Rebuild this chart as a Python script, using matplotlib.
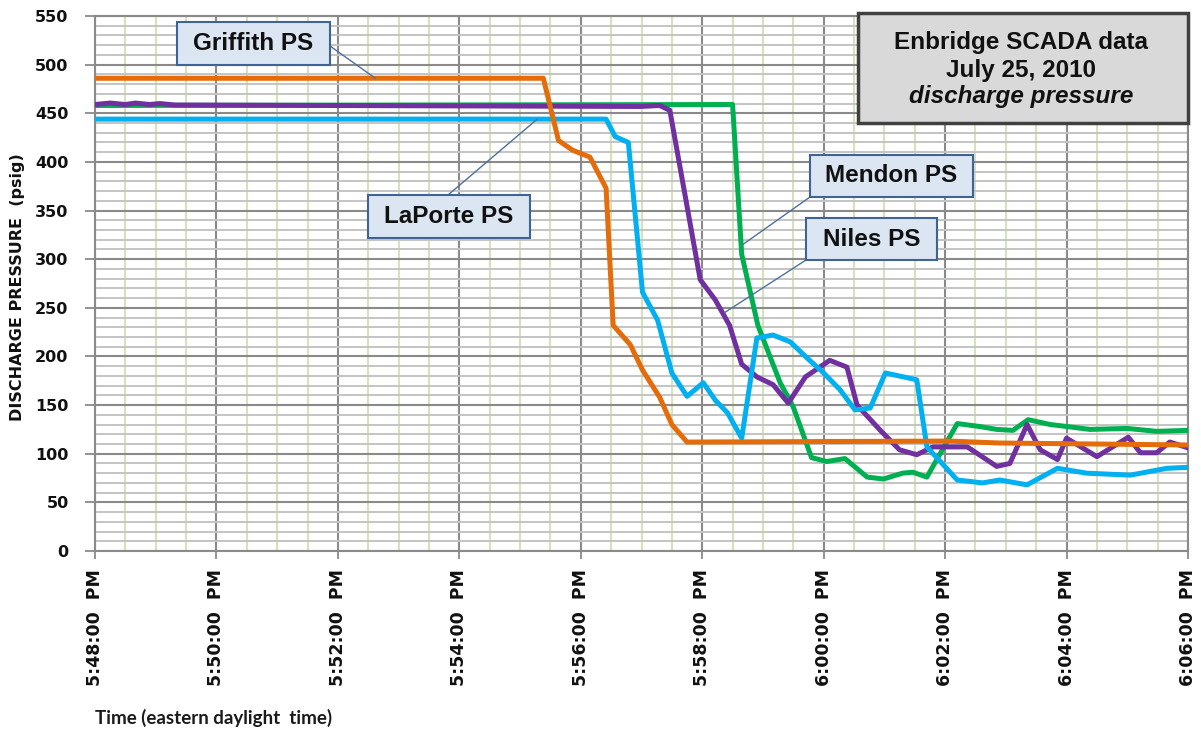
import matplotlib
matplotlib.use("Agg")
import matplotlib.pyplot as plt
from matplotlib.patches import Rectangle
from matplotlib.ticker import MultipleLocator, FixedLocator

# ---- data: seconds after 5:48:00 PM, discharge pressure (psig) ----
griffith_t = [0, 443, 458, 472, 489, 505, 512, 529, 541, 558, 570, 585, 845, 894, 1080]
griffith_p = [486, 486, 422, 412, 405, 373, 232, 212, 186, 158, 130, 112, 113, 111, 109]

laporte_t = [0, 505, 514, 527, 541, 556, 570, 585, 601, 613, 625, 639, 654, 670, 687, 704,
             719, 736, 751, 766, 781, 812, 822, 852, 877, 894, 921, 951, 980, 1023, 1059, 1080]
laporte_p = [444, 444, 426, 420, 266, 237, 183, 159, 173, 155, 142, 116, 219, 222, 215, 198,
             184, 166, 145, 147, 183, 176, 107, 73, 70, 73, 68, 85, 80, 78, 85, 86]

niles_t = [0, 15, 30, 40, 54, 64, 79, 539, 558, 568, 598, 613, 627, 639, 654, 670, 685, 702,
           726, 743, 753, 776, 795, 812, 828, 862, 891, 904, 921, 934, 951, 960, 990, 1021,
           1033, 1049, 1062, 1080]
niles_p = [459, 460.5, 459, 460.5, 459, 460, 458.5, 457, 458, 453, 279, 258, 232, 192, 179, 171, 152, 179,
           196, 189, 150, 124, 104, 99, 107, 107, 87, 90, 130, 104, 94, 116, 97, 117,
           101, 101, 112, 106]

mendon_t = [0, 630, 639, 655, 677, 690, 708, 723, 741, 763, 779, 798, 808, 822, 852, 874, 891,
            907, 922, 944, 960, 983, 1020, 1049, 1080]
mendon_p = [458, 459, 305, 232, 173, 148, 96, 92, 95, 76, 74, 80, 81, 76, 131, 128, 125,
            124, 135, 130, 128, 125, 126, 123, 124]

xtick_secs = [0, 120, 240, 360, 480, 600, 720, 840, 960, 1080]
xtick_labels = ["5:48:00  PM", "5:50:00  PM", "5:52:00  PM", "5:54:00  PM", "5:56:00  PM",
                "5:58:00  PM", "6:00:00  PM", "6:02:00  PM", "6:04:00  PM", "6:06:00  PM"]

W, H = 1201, 733
fig = plt.figure(figsize=(W / 100, H / 100), dpi=100)
fig.patch.set_facecolor("white")
L, R, T, B = 95, 1188, 16, 551
ax = fig.add_axes([L / W, 1 - B / H, (R - L) / W, (B - T) / H])

ax.set_xlim(0, 1080)
ax.set_ylim(0, 550)
ax.set_axisbelow(True)

major_c = "#8A8A8A"
ax.xaxis.set_major_locator(FixedLocator(xtick_secs))
ax.xaxis.set_minor_locator(MultipleLocator(30))
ax.yaxis.set_major_locator(MultipleLocator(50))
ax.yaxis.set_minor_locator(MultipleLocator(10))

ax.yaxis.grid(True, which="minor", color="#C4C4C4", lw=1.4)
ax.xaxis.grid(True, which="minor", color="#C9DBA3", lw=1.1)
ax.grid(True, which="major", color=major_c, lw=1.5)

ax.set_xticklabels(xtick_labels, rotation=90, fontsize=12.5, fontweight="bold",
                   family="DejaVu Sans", color="#111111", va="top")
ax.tick_params(axis="x", which="major", length=6, width=1.3, color=major_c, pad=7)
ax.tick_params(axis="y", which="major", length=7, width=1.3, color=major_c, pad=12)
ax.tick_params(which="minor", length=0)
for lab in ax.get_yticklabels():
    lab.set_fontsize(11.5)
    lab.set_fontweight("bold")
    lab.set_family("DejaVu Sans")
    lab.set_color("#111111")
for s in ax.spines.values():
    s.set_color(major_c)
    s.set_linewidth(1.5)

lw = 3.6
ax.plot(mendon_t, mendon_p, color="#00B050", lw=lw, solid_joinstyle="round", zorder=3)
ax.plot(niles_t, niles_p, color="#7030A0", lw=lw, solid_joinstyle="round", zorder=4)
ax.plot(laporte_t, laporte_p, color="#00B0F0", lw=lw, solid_joinstyle="round", zorder=5)
ax.plot(griffith_t, griffith_p, color="#E46C0A", lw=lw, solid_joinstyle="round", zorder=6)

def fig_frac(x, y):
    return x / W, 1 - y / H

def label_box(x0, y0, x1, y1, text, start, target):
    fx, fy = fig_frac(x0, y1)
    fig.add_artist(Rectangle((fx, fy), (x1 - x0) / W, (y1 - y0) / H, transform=fig.transFigure,
                             facecolor="#DCE6F2", edgecolor="#3E6396", lw=1.5, zorder=10))
    cx, cy = fig_frac((x0 + x1) / 2, (y0 + y1) / 2)
    fig.text(cx, cy, text, ha="center", va="center", fontsize=17.5, fontweight="bold",
             family="Liberation Sans", color="#111111", zorder=11)
    sx, sy = start
    ax.annotate("", xy=target, xycoords="data", xytext=(sx, H - sy), textcoords="figure pixels",
                arrowprops=dict(arrowstyle="-", color="#4F6F9F", lw=1.0, shrinkA=0, shrinkB=0),
                zorder=9, annotation_clip=False)

label_box(177, 22, 330, 65, "Griffith PS", (330, 46), (277, 486))
label_box(368, 195, 530, 238, "LaPorte PS", (448, 195), (437, 444))
label_box(810, 155, 973, 197, "Mendon PS", (810, 197), (640, 315))
label_box(806, 218, 937, 260, "Niles PS", (806, 260), (622, 245))

# title box
fx, fy = fig_frac(858, 123)
fig.add_artist(Rectangle((fx, fy), (1188 - 858) / W, (123 - 13) / H, transform=fig.transFigure,
                         facecolor="#D9D9D9", edgecolor="#404040", lw=2.5, zorder=10))
for txt, yy, st in [("Enbridge SCADA data", 42, "normal"), ("July 25, 2010", 70, "normal"),
                    ("discharge pressure", 97, "italic")]:
    tx, ty = fig_frac(1021, yy)
    fig.text(tx, ty, txt, ha="center", va="center", fontsize=17.5, fontweight="bold", style=st,
             family="Liberation Sans", color="#111111", zorder=11)

# axis titles
fig.text(18 / W, 1 - 287 / H, "DISCHARGE PRESSURE  (psig)", rotation=90, ha="center", va="center",
         fontsize=11.5, fontweight="bold", family="DejaVu Sans", color="#111111")
fig.text(95 / W, 1 - 718 / H, "Time (eastern daylight  time)", ha="left", va="center",
         fontsize=13.5, fontweight="bold", family="Lato", color="#1a1a1a")

fig.savefig("out.png", dpi=100, facecolor="white")
